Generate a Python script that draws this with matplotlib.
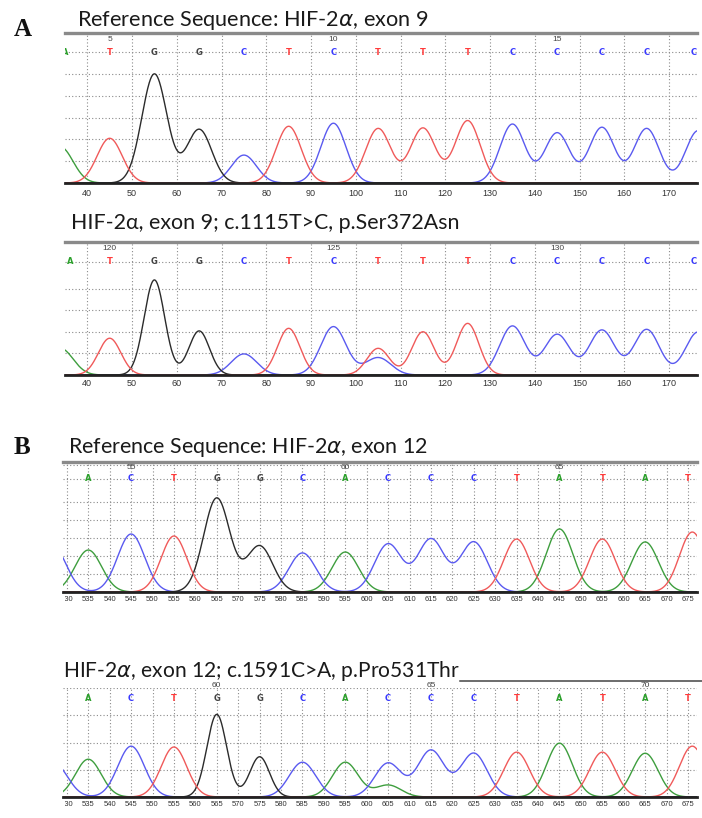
import numpy as np
import matplotlib
matplotlib.use("Agg")
import matplotlib.pyplot as plt
from matplotlib.transforms import Bbox, TransformedBbox
from matplotlib.lines import Line2D

W, H = 702, 818

# ---------------- data ----------------
# Panel A: HIF-2α exon 9 (scan positions)
A_ticks = list(range(40, 171, 10))
A1_base_pos = [35, 45, 55, 65, 75, 85, 95, 105, 115, 125, 135, 145, 155, 165, 175.5]
A2_base_pos = [36.2, 45, 55, 65, 75, 85, 95, 105, 115, 125, 135, 145, 155, 165, 175.5]
A_bases = ["A", "T", "G", "G", "C", "T", "C", "T", "T", "T", "C", "C", "C", "C", "C"]
A_num_pos = [45, 95, 145]
A1_num_labels = ["5", "10", "15"]
A2_num_labels = ["120", "125", "130"]

# A1 reference trace peaks (position, intensity)
A1_A_pos, A1_A_h = [34], [165]
A1_T_pos, A1_T_h = [45, 85, 105, 115, 125], [205, 260, 250, 252, 286]
A1_G_pos, A1_G_h = [55, 65], [500, 246]
A1_C_pos, A1_C_h = [75, 95, 135, 145, 155, 165, 176.5], [128, 274, 270, 230, 255, 250, 240]
A1_sigma = {"A": 2.8, "C": 2.8, "G": 2.8, "T": 2.8}

# A2 patient trace peaks (c.1115T>C)
A2_A_pos, A2_A_h = [34], [124]
A2_T_pos, A2_T_h = [45, 85, 105, 115, 125], [171, 217, 124, 201, 240]
A2_G_pos, A2_G_h = [55, 65], [442, 205]
A2_C_pos, A2_C_h = [75, 95, 105, 135, 145, 155, 165, 176.5], [98, 225, 81, 228, 189, 209, 212, 200]
A2_sigma = {"A": 2.8, "C": 2.85, "G": 2.3, "T": 2.5}

# Panel B: HIF-2α exon 12
B_ticks = list(range(530, 676, 5))
B_base_pos = [535, 545, 555, 565, 575, 585, 595, 605, 615, 625, 635, 645, 655, 665, 675]
B_bases = ["A", "C", "T", "G", "G", "C", "A", "C", "C", "C", "T", "A", "T", "A", "T"]
B1_num_pos, B1_num_labels = [545, 595, 645], ["55", "60", "65"]
B2_num_pos, B2_num_labels = [565, 615, 665], ["60", "65", "70"]

B1_A_pos, B1_A_h = [535, 595, 645, 665], [233, 222, 350, 278]
B1_C_pos, B1_C_h = [526.5, 545, 585, 605, 615, 625], [267, 322, 217, 267, 294, 278]
B1_T_pos, B1_T_h = [555, 635, 655, 676], [311, 294, 294, 333]
B1_G_pos, B1_G_h = [565, 575], [522, 256]
B1_sigma = {"A": 3.1, "C": 3.15, "G": 3.05, "T": 3.0}

B2_A_pos, B2_A_h = [535, 595, 605, 645, 665], [139, 128, 44, 198, 161]
B2_C_pos, B2_C_h = [527, 545, 585, 605, 615, 625], [125, 187, 128, 125, 172, 161]
B2_T_pos, B2_T_h = [555, 635, 655, 676], [184, 165, 165, 187]
B2_G_pos, B2_G_h = [565, 575], [304, 148]
B2_sigma = {"A": 3.0, "C": 3.1, "G": 2.3, "T": 3.0}

TITLES = [
    "Reference Sequence: HIF-2$\\alpha$, exon 9",
    "HIF-2\u03b1, exon 9; c.1115T>C, p.Ser372Asn",
    "Reference Sequence: HIF-2$\\alpha$, exon 12",
    "HIF-2$\\alpha$, exon 12; c.1591C>A, p.Pro531Thr",
]

# ---------------- style ----------------
TRACE = {"A": "#3e9e3e", "C": "#5a5af0", "G": "#2b2b2b", "T": "#f05a5a"}
LETTER = {"A": "#2ca02c", "C": "#3a3aff", "G": "#444444", "T": "#ff3b3b"}
GRID = dict(color="#8a8a8a", lw=0.8, ls=(0, (1, 2)))

fig = plt.figure(figsize=(W / 100, H / 100), dpi=100)


def add_axes_px(L, T, R, B):
    return fig.add_axes([L / W, 1 - B / H, (R - L) / W, (B - T) / H])


def draw_panel(ax, xlim, ytop, peaks, sigma, xticks, tick_fs, yticks, extra_grid,
               base_pos, bases, letter_y, num_pos, num_labels, num_y, pad,
               top_line=True, clip_left=None):
    x = np.linspace(xlim[0], xlim[1], 2500)
    for ch in ["A", "C", "G", "T"]:
        pos, hts = peaks[ch]
        y = np.zeros_like(x)
        for p, hh in zip(pos, hts):
            y += hh * np.exp(-(x - p) ** 2 / (2 * sigma[ch] ** 2))
        ax.plot(x, y, color=TRACE[ch], lw=1.0, zorder=3)
    ax.set_xlim(*xlim)
    ax.set_ylim(0, ytop)
    ax.set_xticks(xticks)
    ax.set_yticks(yticks)
    ax.set_axisbelow(True)
    ax.grid(True, **GRID)
    for yy in extra_grid:
        ax.axhline(yy, zorder=1, **GRID)
    ax.tick_params(axis="both", length=0, labelleft=False, pad=pad,
                   labelsize=tick_fs, labelcolor="#333333")
    for lbl in ax.get_xticklabels():
        lbl.set_fontfamily("Liberation Sans")
    for s in ["left", "right"]:
        ax.spines[s].set_visible(False)
    ax.spines["bottom"].set_color("#222222")
    ax.spines["bottom"].set_linewidth(2.0)
    ax.spines["bottom"].set_zorder(5)
    if top_line:
        ax.spines["top"].set_color("#8a8a8a")
        ax.spines["top"].set_linewidth(2.4)
    else:
        ax.spines["top"].set_visible(False)
    for p, b in zip(base_pos, bases):
        ax.text(p, letter_y, b, color=LETTER[b], ha="center", va="center",
                fontsize=6, family="DejaVu Sans", fontweight="bold", clip_on=True)
    for p, lab in zip(num_pos, num_labels):
        ax.text(p, num_y, lab, color="#444444", ha="center", va="center",
                fontsize=6, family="Liberation Sans", clip_on=False)
    if clip_left is not None:
        cb = TransformedBbox(Bbox.from_extents(clip_left / W, 0, 1, 1), fig.transFigure)
        for t in ax.xaxis.get_major_ticks():
            t.label1.set_clip_on(True)
            t.label1.set_clip_box(cb)


# Panel A1
axA1 = add_axes_px(65, 32.7, 697, 183)
draw_panel(axA1, (35.02, 176.25), 689,
           {"A": (A1_A_pos, A1_A_h), "C": (A1_C_pos, A1_C_h),
            "G": (A1_G_pos, A1_G_h), "T": (A1_T_pos, A1_T_h)},
           A1_sigma, A_ticks, 6.5, [100, 200, 300, 400, 500, 600], [],
           A1_base_pos, A_bases, 600, A_num_pos, A1_num_labels, 656, 4.0)

# Panel A2
axA2 = add_axes_px(65, 242.3, 697, 375)
draw_panel(axA2, (35.02, 176.25), 617,
           {"A": (A2_A_pos, A2_A_h), "C": (A2_C_pos, A2_C_h),
            "G": (A2_G_pos, A2_G_h), "T": (A2_T_pos, A2_T_h)},
           A2_sigma, A_ticks, 6.5, [100, 200, 300, 400], [526],
           A2_base_pos, A_bases, 526, A_num_pos, A2_num_labels, 586, 3.0)

# Panel B1
axB1 = add_axes_px(63, 462, 697, 592)
draw_panel(axB1, (529.1, 677.1), 722,
           {"A": (B1_A_pos, B1_A_h), "C": (B1_C_pos, B1_C_h),
            "G": (B1_G_pos, B1_G_h), "T": (B1_T_pos, B1_T_h)},
           B1_sigma, B_ticks, 5.5, [100, 200, 300, 400, 500], [628, 706],
           B_base_pos, B_bases, 628, B1_num_pos, B1_num_labels, 689, 3.0,
           clip_left=65)

# Panel B2
axB2 = add_axes_px(63, 688, 697, 797)
draw_panel(axB2, (529.1, 677.1), 401,
           {"A": (B2_A_pos, B2_A_h), "C": (B2_C_pos, B2_C_h),
            "G": (B2_G_pos, B2_G_h), "T": (B2_T_pos, B2_T_h)},
           B2_sigma, B_ticks, 5.5, [100, 200, 300, 400], [],
           B_base_pos, B_bases, 363, B2_num_pos, B2_num_labels, 409, 3.0,
           top_line=False, clip_left=65)

# underline after the B2 title
fig.add_artist(Line2D([460 / W, 1.0], [1 - 681 / H, 1 - 681 / H],
                      transform=fig.transFigure, color="#444444", lw=1.1))

# titles, fitted to the reference widths
renderer = fig.canvas.get_renderer()
title_specs = [  # (x_left, y_baseline, width)
    (77, 25.7, 353),
    (71, 229.3, 388),
    (67.7, 453.3, 362),
    (62.7, 677.3, 398),
]
for txt, (xl, yb, wd) in zip(TITLES, title_specs):
    t = fig.text(xl / W, 1 - yb / H, txt, fontsize=14, family=["Lato", "DejaVu Sans"],
                 ha="left", va="baseline", color="#1a1a1a")
    bb = t.get_window_extent(renderer)
    t.set_fontsize(14 * wd / bb.width)

# panel letters
fig.text(14 / W, 1 - 36 / H, "A", family="Liberation Serif", fontweight="bold",
         fontsize=18, ha="left", va="baseline", color="#111111")
fig.text(14 / W, 1 - 454 / H, "B", family="Liberation Serif", fontweight="bold",
         fontsize=18, ha="left", va="baseline", color="#111111")

fig.savefig("out.png", dpi=100, facecolor="white")
